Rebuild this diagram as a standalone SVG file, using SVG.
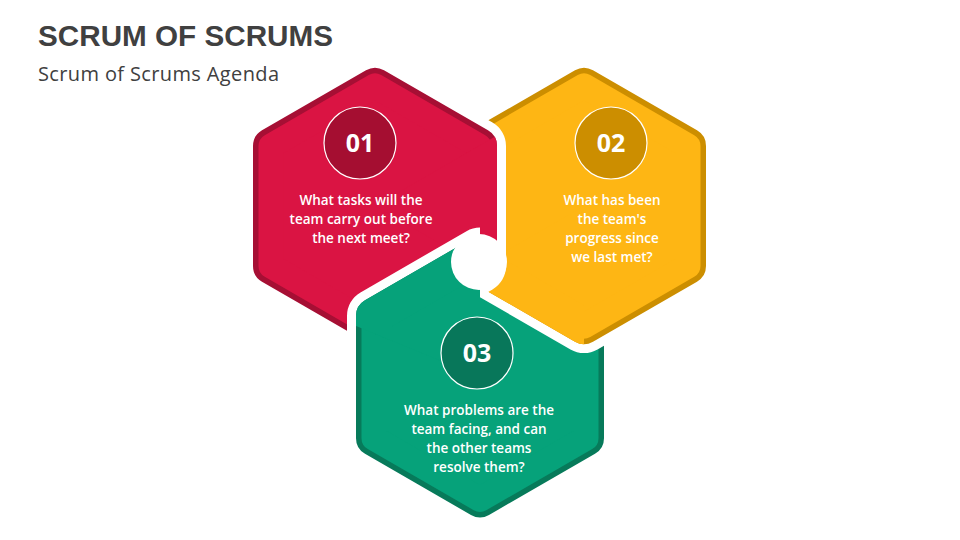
<svg xmlns="http://www.w3.org/2000/svg" width="960" height="540" viewBox="0 0 960 540">
<defs>
<style>
.hx{stroke-linejoin:round}
.wht{fill:#fff;stroke:#fff;stroke-width:54}
.rim{stroke-width:36}
.ins{stroke-width:25}
.rd{fill:#A60F34;stroke:#A60F34}
.rl{fill:#DA1443;stroke:#DA1443}
.yd{fill:#CC8E00;stroke:#CC8E00}
.yl{fill:#FEB614;stroke:#FEB614}
.gd{fill:#077A5A;stroke:#077A5A}
.gl{fill:#06A27A;stroke:#06A27A}
.badge{stroke:#fff;stroke-width:1.2}
.num{font-family:"Open Sans","Liberation Sans",sans-serif;font-weight:700;font-size:25px;fill:#fff;text-anchor:middle}
.txt{font-family:"Open Sans","Liberation Sans",sans-serif;font-weight:600;font-size:13.5px;fill:#fff;text-anchor:middle}
.title{font-family:"Liberation Sans","Open Sans",sans-serif;font-weight:700;font-size:29px;fill:#404040}
.sub{font-family:"Open Sans","Liberation Sans",sans-serif;font-size:20px;fill:#404040}
</style>
<polygon id="hexR" class="hx" points="375,85.91 479,145.96 479,266.04 375,326.09 271,266.04 271,145.96"/>
<polygon id="hexY" class="hx" points="584,85.91 688,145.96 688,266.04 584,326.09 480,266.04 480,145.96"/>
<polygon id="hexG" class="hx" points="480,254.6 586,315.8 586,438.2 480,499.4 374,438.2 374,315.8"/>
<clipPath id="cR"><polygon points="375,206 541,110 541,302"/></clipPath>
<clipPath id="cY"><polygon points="584,206 418,302 584,398"/></clipPath>
<clipPath id="cG"><polygon points="480,377 480,181 305,305"/></clipPath>
<clipPath id="cLeft"><rect x="0" y="0" width="480" height="540"/></clipPath>
</defs>

<text class="title" x="38" y="46" textLength="295" lengthAdjust="spacingAndGlyphs">SCRUM OF SCRUMS</text>
<text class="sub" x="38" y="81" textLength="241" lengthAdjust="spacing">Scrum of Scrums Agenda</text>

<g id="node-3-base">
<use href="#hexG" class="rim gd"/>
<use href="#hexG" class="ins gl"/>
<use href="#hexG" class="rim gl" clip-path="url(#cG)"/>
</g>

<g id="node-2">
<use href="#hexY" class="wht"/>
<use href="#hexY" class="rim yd"/>
<use href="#hexY" class="ins yl"/>
<use href="#hexY" class="rim yl" clip-path="url(#cY)"/>
<circle cx="611" cy="143" r="36" fill="#CC8E00" class="badge"/>
<text class="num" x="611" y="152">02</text>
<text class="txt" x="612" y="205">What has been</text>
<text class="txt" x="612" y="224">the team's</text>
<text class="txt" x="612" y="243">progress since</text>
<text class="txt" x="612" y="262">we last met?</text>
</g>

<g id="node-1">
<use href="#hexR" class="wht"/>
<use href="#hexR" class="rim rd"/>
<use href="#hexR" class="ins rl"/>
<use href="#hexR" class="rim rl" clip-path="url(#cR)"/>
<circle cx="360" cy="143" r="36" fill="#A50E31" class="badge"/>
<text class="num" x="360" y="152">01</text>
<text class="txt" x="361" y="205">What tasks will the</text>
<text class="txt" x="361" y="224">team carry out before</text>
<text class="txt" x="361" y="243">the next meet?</text>
</g>

<g id="node-3">
<g clip-path="url(#cLeft)">
<use href="#hexG" class="wht"/>
<use href="#hexG" class="rim gd"/>
<use href="#hexG" class="ins gl"/>
<use href="#hexG" class="rim gl" clip-path="url(#cG)"/>
</g>
<circle cx="479" cy="262" r="28" fill="#fff"/>
<circle cx="477" cy="353" r="36" fill="#08775A" class="badge"/>
<text class="num" x="477" y="362">03</text>
<text class="txt" x="479" y="415">What problems are the</text>
<text class="txt" x="479" y="434">team facing, and can</text>
<text class="txt" x="479" y="453">the other teams</text>
<text class="txt" x="479" y="472">resolve them?</text>
</g>

<g id="connectors"/>
</svg>
